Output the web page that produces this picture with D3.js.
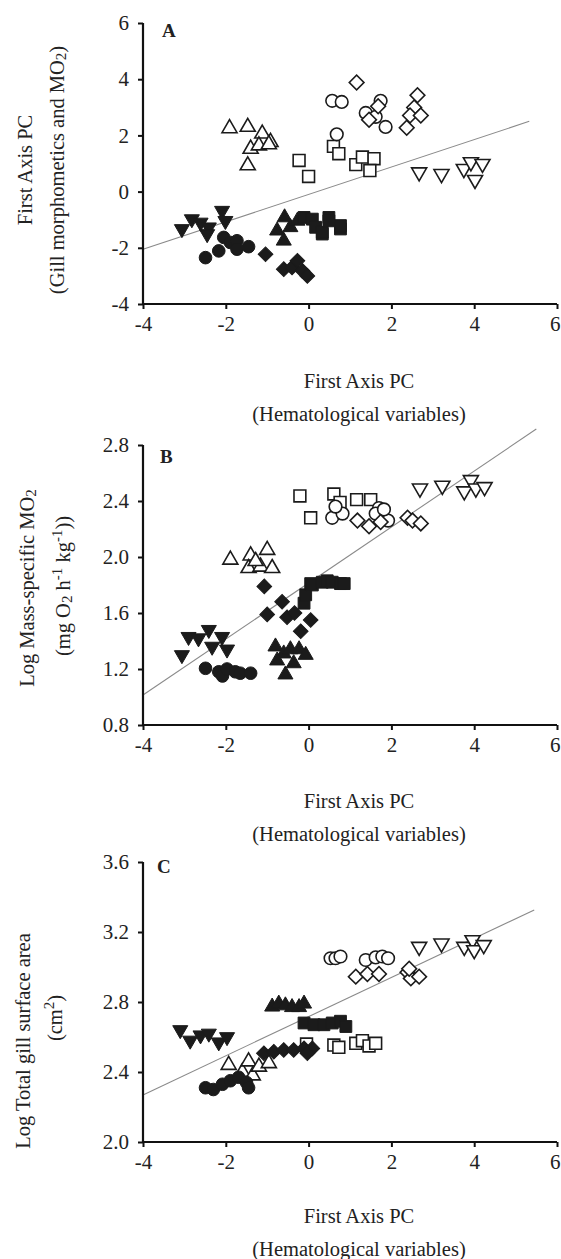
<!DOCTYPE html>
<html><head><meta charset="utf-8">
<script src="https://cdn.jsdelivr.net/npm/d3@7"></script>
<style>
body{margin:0;background:#fff;}
svg{display:block;}
text{font-family:"Liberation Serif","Times New Roman",serif;fill:#222;}
</style></head>
<body>
<svg id="chart" width="561" height="1259"></svg>
<script>
// ---------- DATA ----------
const xTicks = [-4, -2, 0, 2, 4, 6];
const yTicksA = [-4, -2, 0, 2, 4, 6];
const yTicksB = [0.8, 1.2, 1.6, 2.0, 2.4, 2.8];
const yTicksC = [2.0, 2.4, 2.8, 3.2, 3.6];

// Panel A: First Axis PC (gill morphometrics and MO2)
const A_circleFilled   = [[-2.49,-2.35],[-2.17,-2.11],[-2.05,-1.63],[-1.89,-1.81],[-1.73,-1.75],[-1.73,-2.05],[-1.45,-1.96]];
const A_triDownFilled  = [[-3.06,-1.33],[-2.82,-0.98],[-2.61,-1.10],[-2.41,-1.27],[-2.45,-1.51],[-2.09,-0.68],[-2.01,-1.04]];
const A_diamondFilled  = [[-1.04,-2.23],[-0.60,-2.76],[-0.40,-2.70],[-0.27,-2.46],[-0.15,-2.82],[-0.03,-3.00]];
const A_triUpFilled    = [[-0.58,-0.92],[-0.76,-1.39],[-0.60,-1.75],[-0.44,-1.27],[-0.27,-1.04]];
const A_squareFilled   = [[-0.11,-0.92],[0.09,-0.98],[0.17,-1.27],[0.33,-1.51],[0.33,-1.45],[0.49,-0.92],[0.49,-1.04],[0.77,-1.33],[0.77,-1.21]];
const A_triUpOpen      = [[-1.91,2.25],[-1.47,2.30],[-1.12,2.06],[-0.92,1.76],[-1.40,1.52],[-1.20,1.64],[-0.96,1.68],[-1.47,0.93]];
const A_squareOpen     = [[-0.23,1.11],[0.00,0.54],[0.60,1.61],[0.73,1.35],[1.14,0.96],[1.30,1.23],[1.58,1.17],[1.48,0.75]];
const A_circleOpen     = [[0.57,3.23],[0.80,3.19],[1.74,3.23],[1.38,2.80],[1.62,2.66],[1.86,2.30],[0.68,2.04]];
const A_diamondOpen    = [[1.16,3.88],[1.68,3.04],[1.46,2.56],[2.63,3.43],[2.55,2.99],[2.45,2.71],[2.71,2.71],[2.37,2.27]];
const A_triDownOpen    = [[2.67,0.69],[3.21,0.63],[3.75,0.81],[3.92,1.05],[4.20,0.99],[4.02,0.42]];
const A_fitLine        = [[-4,-2.05],[5.33,2.5]];

// Panel B: Log mass-specific MO2
const B_circleFilled   = [[-2.49,1.205],[-2.17,1.18],[-2.08,1.15],[-1.97,1.20],[-1.77,1.18],[-1.65,1.17],[-1.40,1.17]];
const B_triDownFilled  = [[-3.06,1.30],[-2.90,1.43],[-2.66,1.42],[-2.41,1.48],[-2.33,1.36],[-2.09,1.43],[-1.97,1.34]];
const B_diamondFilled  = [[-1.07,1.79],[-0.64,1.68],[-1.00,1.59],[-0.52,1.57],[-0.34,1.60],[-0.19,1.47],[0.05,1.55]];
const B_triUpFilled    = [[-0.80,1.36],[-0.60,1.31],[-0.44,1.34],[-0.23,1.34],[-0.07,1.30],[-0.76,1.26],[-0.36,1.24],[-0.56,1.16]];
const B_squareFilled   = [[-0.11,1.67],[-0.07,1.73],[0.05,1.81],[0.09,1.80],[0.33,1.82],[0.45,1.83],[0.57,1.82],[0.77,1.81],[0.86,1.81]];
const B_triUpOpen      = [[-1.89,1.98],[-1.40,2.01],[-1.00,2.05],[-1.45,1.92],[-1.16,1.93],[-0.88,1.92],[-1.28,1.97]];
const B_squareOpen     = [[-0.21,2.436],[0.05,2.28],[0.61,2.45],[0.76,2.39],[1.16,2.41],[1.50,2.41]];
const B_circleOpen     = [[0.57,2.28],[0.82,2.31],[0.65,2.36],[1.70,2.35],[1.62,2.31],[1.92,2.26],[1.82,2.34]];
const B_diamondOpen    = [[1.18,2.26],[1.46,2.22],[1.74,2.25],[2.39,2.28],[2.51,2.26],[2.71,2.24]];
const B_triDownOpen    = [[2.69,2.49],[3.23,2.51],[3.92,2.55],[3.76,2.47],[4.04,2.49],[4.25,2.50]];
const B_fitLine        = [[-4,1.014],[5.5,2.914]];

// Panel C: Log total gill surface area
const C_circleFilled   = [[-2.49,2.31],[-2.30,2.30],[-2.08,2.33],[-1.89,2.35],[-1.69,2.37],[-1.50,2.34],[-1.45,2.31]];
const C_triDownFilled  = [[-3.10,2.64],[-2.86,2.58],[-2.61,2.61],[-2.41,2.62],[-2.17,2.57],[-1.97,2.60]];
const C_diamondFilled  = [[-1.08,2.507],[-0.84,2.516],[-0.60,2.526],[-0.36,2.526],[-0.11,2.535],[0.09,2.535],[-0.03,2.507]];
const C_triUpFilled    = [[-0.88,2.773],[-0.72,2.79],[-0.56,2.78],[-0.40,2.77],[-0.23,2.77],[-0.11,2.79]];
const C_squareFilled   = [[-0.11,2.68],[0.13,2.67],[0.37,2.67],[0.57,2.68],[0.77,2.69],[0.90,2.66]];
const C_triUpOpen      = [[-1.93,2.44],[-1.60,2.40],[-1.45,2.46],[-1.35,2.38],[-1.20,2.43],[-0.96,2.45]];
const C_squareOpen     = [[-0.05,2.56],[0.61,2.554],[0.73,2.541],[1.14,2.564],[1.30,2.579],[1.46,2.549],[1.62,2.564]];
const C_circleOpen     = [[0.53,3.05],[0.65,3.05],[0.77,3.06],[1.38,3.04],[1.62,3.055],[1.78,3.06],[1.92,3.05]];
const C_diamondOpen    = [[1.14,2.945],[1.42,2.96],[1.70,2.96],[2.39,2.97],[2.47,2.935],[2.67,2.945],[2.43,2.99]];
const C_triDownOpen    = [[2.67,3.116],[3.21,3.135],[3.76,3.116],[3.96,3.154],[4.00,3.097],[4.23,3.126]];
const C_fitLine        = [[-4,2.269],[5.45,3.326]];

// ---------- STYLE / LAYOUT ----------
const svg = d3.select("#chart");
const X0 = 143, X1 = 557;
const x = d3.scaleLinear().domain([-4, 6]).range([X0, X1]);

const panels = [
  {letter:"A", top:23, bottom:304, domain:[-4,6], ticks:yTicksA, fmt:d=>String(d),
   groups:[A_triUpOpen,A_squareOpen,A_circleOpen,A_diamondOpen,A_triDownOpen,A_circleFilled,A_triDownFilled,A_diamondFilled,A_triUpFilled,A_squareFilled],
   line:A_fitLine, letterPos:[162,37],
   ylab:[{t:[["First Axis PC"]],x:25,y:170},{t:[["(Gill morphometics and MO"],["2","sub"],[")"]],x:57,y:170}],
   xlabY:[388,421]},
  {letter:"B", top:445, bottom:725, domain:[0.8,2.8], ticks:yTicksB, fmt:d3.format(".1f"),
   groups:[B_triUpOpen,B_squareOpen,B_circleOpen,B_diamondOpen,B_triDownOpen,B_circleFilled,B_triDownFilled,B_diamondFilled,B_triUpFilled,B_squareFilled],
   line:B_fitLine, letterPos:[160,463],
   ylab:[{t:[["Log Mass-specific MO"],["2","sub"]],x:27,y:588},{t:[["(mg O"],["2","sub"],[" h"],["-1","sup"],[" kg"],["-1","sup"],["))"]],x:63,y:586}],
   xlabY:[808,841]},
  {letter:"C", top:862, bottom:1142, domain:[2.0,3.6], ticks:yTicksC, fmt:d3.format(".1f"),
   groups:[C_triUpOpen,C_squareOpen,C_circleOpen,C_diamondOpen,C_triDownOpen,C_circleFilled,C_triDownFilled,C_diamondFilled,C_triUpFilled,C_squareFilled],
   line:C_fitLine, letterPos:[157,873],
   ylab:[{t:[["Log Total gill surface area"]],x:23,y:1041},{t:[["(cm"],["2","sup"],[")"]],x:55,y:1018}],
   xlabY:[1223,1256]}
];

const groupStyle = [
  {shape:"triUp",fill:false},{shape:"square",fill:false},{shape:"circle",fill:false},{shape:"diamond",fill:false},{shape:"triDown",fill:false},
  {shape:"circle",fill:true},{shape:"triDown",fill:true},{shape:"diamond",fill:true},{shape:"triUp",fill:true},{shape:"square",fill:true}
];
const symGen = {
  circle: d3.symbol().type(d3.symbolCircle).size(125)(),
  square: d3.symbol().type(d3.symbolSquare).size(140)(),
  diamond: d3.symbol().type(d3.symbolSquare).size(108)(),
  triUp: d3.symbol().type(d3.symbolTriangle).size(98)(),
  triDown: d3.symbol().type(d3.symbolTriangle).size(98)()
};
const rot = {circle:0, square:0, diamond:45, triUp:0, triDown:180};

panels.forEach(p => {
  const y = d3.scaleLinear().domain(p.domain).range([p.bottom, p.top]);
  const g = svg.append("g");

  // fit line
  g.append("path")
    .attr("d", d3.line().x(d=>x(d[0])).y(d=>y(d[1]))(p.line))
    .attr("stroke", "#8a8a8a").attr("stroke-width", 1.1).attr("fill", "none");

  // markers
  p.groups.forEach((data, gi) => {
    const st = groupStyle[gi];
    g.append("g").selectAll("path").data(data).join("path")
      .attr("d", symGen[st.shape])
      .attr("transform", d => `translate(${x(d[0])},${y(d[1])}) rotate(${rot[st.shape]})`)
      .attr("fill", st.fill ? "#1b1b1b" : "#fff")
      .attr("stroke", "#1b1b1b")
      .attr("stroke-width", st.fill ? 1 : 1.6);
  });

  // y axis
  const ya = g.append("g").attr("transform", `translate(${X0},0)`)
    .call(d3.axisLeft(y).tickValues(p.ticks).tickFormat(p.fmt).tickSize(5).tickPadding(9));
  // x axis
  const xa = g.append("g").attr("transform", `translate(0,${p.bottom})`)
    .call(d3.axisBottom(x).tickValues(xTicks).tickFormat(d=>String(d)).tickSize(5).tickPadding(7));
  [ya, xa].forEach(a => {
    a.attr("font-family", '"Liberation Serif", serif').attr("font-size", 21);
    a.select(".domain").attr("stroke", "#111").attr("stroke-width", 2.2);
    a.selectAll(".tick line").attr("stroke", "#111").attr("stroke-width", 2);
    a.selectAll(".tick text").style("font-family", '"Liberation Serif", serif').style("font-size", "21px").attr("fill", "#222");
  });
  // keep the last x tick label inside the picture
  xa.selectAll(".tick text").filter(d => d === 6).attr("text-anchor", "end").attr("x", 3);
  ya.select(".domain").attr("d", `M0,${p.bottom}V${p.top}`);
  xa.select(".domain").attr("d", `M${X0},0H${X1}`);

  // panel letter
  g.append("text").attr("x", p.letterPos[0]).attr("y", p.letterPos[1])
    .style("font-size", "19px").style("font-weight", "bold").attr("fill", "#111").text(p.letter);

  // y labels
  p.ylab.forEach(l => {
    const t = g.append("text")
      .attr("transform", `translate(${l.x},${l.y}) rotate(-90)`)
      .attr("text-anchor", "middle").attr("dominant-baseline", "central")
      .style("font-size", "20.5px");
    l.t.forEach(seg => {
      const ts = t.append("tspan").text(seg[0]);
      if (seg[1] === "sub") ts.attr("baseline-shift", "-25%").style("font-size", "15px");
      if (seg[1] === "sup") ts.attr("baseline-shift", "40%").style("font-size", "15px");
    });
  });

  // x labels
  g.append("text").attr("x", 359).attr("y", p.xlabY[0]).attr("text-anchor", "middle")
    .style("font-size", "20.5px").text("First Axis PC");
  g.append("text").attr("x", 359).attr("y", p.xlabY[1]).attr("text-anchor", "middle")
    .style("font-size", "20.5px").text("(Hematological variables)");
});
</script>
</body></html>
